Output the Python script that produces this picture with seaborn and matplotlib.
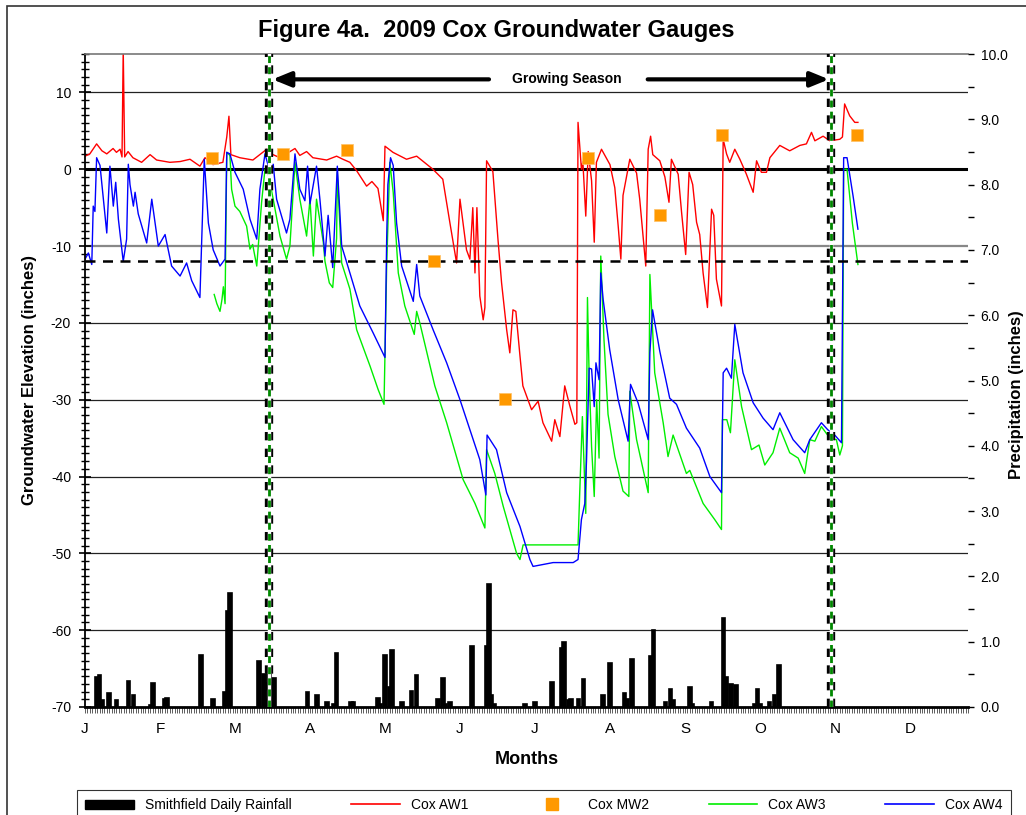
import numpy as np
import matplotlib
matplotlib.use('Agg')
import matplotlib.pyplot as plt
from matplotlib.patches import Patch, Rectangle
from matplotlib.lines import Line2D
import seaborn as sns

plt.rcParams['font.family'] = ['Liberation Sans', 'DejaVu Sans']
plt.rcParams['axes.unicode_minus'] = False

# ---- data (day of year, inches) ----
months = ['J', 'F', 'M', 'A', 'M', 'J', 'J', 'A', 'S', 'O', 'N', 'D']
month_days = [0, 31, 62, 93, 124, 155, 186, 217, 248, 279, 310, 341]

gs_start = 76
gs_end = 308.5

aw1_day = [0, 2, 4.8, 7, 9, 11.6, 13, 14.5, 15.3, 15.8,
           16.4, 17.8, 19.8, 23.4, 26.9, 29.6, 35.1, 39.3, 43.4, 47.5,
           49.6, 52.9, 57, 58.6, 59.5, 60.3, 64, 69.4, 75.1, 77.7,
           80.6, 86.8, 88.8, 91.6, 94.2, 99.9, 104, 106.6, 109.5, 112.3,
           116.4, 118.6, 121.1, 123.3, 124, 127.3, 132.9, 137.1, 143.8, 147.9,
           150.8, 153.6, 155, 157.7, 159.1, 160.3, 161.2, 162, 163.2, 164.6,
           165.3, 166, 168.6, 170.7, 172.2, 174.3, 175.6, 176.9, 178.1, 179.8,
           181, 184.6, 187.3, 189.3, 192.9, 194.2, 196.3, 198.3, 200.4, 202.5,
           203.3, 203.8, 205.2, 205.8, 207, 208, 209.4, 210.5, 211.4, 213.5,
           217, 219, 220.4, 221.5, 222.4, 225.2, 228, 229.3, 230.7, 231.8,
           232.8, 233.8, 234.7, 237.6, 239.7, 241.4, 242.4, 245.2, 246.6, 248.3,
           249.7, 251.2, 252.8, 254.1, 255.5, 257.3, 259, 259.9, 261, 263.1,
           263.8, 265.2, 266.5, 268.6, 270.7, 273.4, 276.2, 277.6, 279.6, 281.7,
           283.1, 287.2, 291.3, 295.5, 298.2, 300.3, 301.7, 305.1, 307.9, 312,
           313.1, 314, 316.1, 318.2, 319.5]
aw1_val = [1.7, 2.0, 3.3, 2.4, 2.0, 2.7, 2.2, 2.6, 1.6, 15.6,
           1.6, 2.3, 1.5, 0.9, 1.9, 1.2, 0.9, 1.0, 1.3, 0.4,
           1.5, 0.6, 0.9, 4.2, 6.9, 1.9, 1.5, 1.2, 2.6, 1.9,
           1.5, 2.7, 1.8, 2.3, 1.5, 1.2, 1.7, 1.3, 0.9, -0.2,
           -2.2, -1.6, -2.5, -6.7, 3.0, 2.2, 1.3, 1.7, 0.0, -1.3,
           -6.9, -12.2, -3.9, -10.5, -11.7, -5.0, -13.5, -5.0, -16.5, -19.6,
           -18.0, 1.1, -0.3, -9.1, -14.8, -20.9, -23.9, -18.3, -18.5, -24.3,
           -28.2, -31.3, -30.2, -33.0, -35.4, -32.6, -34.8, -28.2, -30.8, -33.2,
           -33.0, 6.1, 0.0, 1.0, -6.1, 2.3, -1.5, -9.5, 0.9, 2.6,
           0.6, -2.4, -7.4, -11.7, -3.4, 1.3, -0.5, -3.9, -8.7, -12.6,
           2.6, 4.3, 1.9, 1.1, -1.0, -4.3, 1.3, -0.65, -5.6, -11.1,
           -0.4, -2.0, -6.9, -8.5, -13.5, -18.0, -5.2, -6.0, -14.3, -17.8,
           3.9, 2.0, 0.9, 2.6, 1.3, -0.65, -3.0, 1.1, -0.4, -0.4,
           1.5, 3.1, 2.4, 3.1, 3.3, 4.8, 3.7, 4.3, 3.7, 3.9,
           4.2, 8.5, 6.95, 6.1, 6.1]

mw2_day = [52.6, 82, 108.2, 144.3, 173.6, 208, 237.6, 263.3, 319.3]
mw2_val = [1.5, 2.0, 2.5, -12.0, -29.9, 1.5, -5.95, 4.5, 4.5]

aw3_day = [53.4, 54.5, 55.8, 56.6, 57.2, 57.9, 58.6, 59.9, 60.6, 62,
           64, 66.8, 68.2, 69.3, 71, 73, 74.4, 75.7, 77.8, 80.6,
           83.3, 84.7, 86.8, 88.8, 91.6, 93, 94.4, 95.7, 98.5, 99.2,
           101, 102.4, 104, 104.3, 106.1, 109.5, 112.3, 117.8, 121.2, 123.6,
           124.7, 126, 127.4, 129.5, 132.2, 136.1, 137.1, 138.4, 144.6, 149.5,
           156.3, 161.2, 165.3, 166, 169.4, 172.9, 178.4, 179.8, 181.1, 203.8,
           204.5, 205.6, 207, 207.7, 208.4, 209.4, 210.5, 211.5, 212.5, 213.2,
           214.5, 216.2, 219, 222.4, 224.8, 225.2, 228, 232.8, 233.5, 235.5,
           239, 241, 243.1, 248.6, 250, 255.5, 260.3, 263.1, 263.5, 265.3,
           266.8, 268.6, 271.4, 275.5, 278.6, 281, 284.4, 287.2, 291.3, 294.8,
           297.5, 299.6, 301.7, 304.4, 307.9, 310.6, 312, 313.1, 313.6, 315,
           317.2, 319.5]
aw3_val = [-16.3, -17.5, -18.5, -17.0, -15.3, -17.5, 2.2, 1.8, -2.6, -4.8,
           -5.5, -7.4, -10.4, -9.8, -12.6, -4.3, 0.0, -0.5, -3.9, -8.7,
           -11.7, -10.0, 0.9, -3.9, -8.7, -3.9, -11.3, -3.9, -9.5, -12.0,
           -14.8, -15.4, -9.0, -0.4, -12.2, -15.6, -20.9, -25.6, -28.7, -30.6,
           -12.6, 0.9, -3.0, -13.5, -17.8, -21.5, -18.5, -20.0, -28.2, -33.0,
           -40.4, -43.5, -46.7, -36.5, -39.6, -43.9, -50.0, -50.8, -48.9, -48.9,
           -42.1, -32.2, -44.8, -16.7, -27.0, -36.1, -42.6, -30.0, -37.6, -11.3,
           -22.0, -31.9, -37.4, -41.9, -42.6, -28.9, -35.2, -42.1, -13.7, -26.5,
           -33.0, -37.4, -34.6, -39.6, -39.2, -43.5, -45.6, -46.9, -32.6, -32.6,
           -34.3, -24.8, -30.9, -36.5, -35.9, -38.5, -36.9, -33.7, -36.9, -37.6,
           -39.6, -35.2, -35.4, -33.5, -35.0, -35.2, -37.2, -36.0, 0.0, 0.0,
           -7.0, -12.4]

aw4_day = [0, 1.4, 2.8, 3.4, 4.1, 4.8, 6.2, 9, 10.3, 11.7,
           12.7, 13.8, 15.8, 17.2, 17.9, 18.6, 20, 20.7, 22, 25.5,
           27.6, 30.3, 33.1, 35.8, 39.3, 42, 44.1, 47.5, 49.3, 51,
           53, 55.8, 57.9, 58.6, 59.9, 62, 65.4, 68.2, 71, 72.3,
           74.4, 75.7, 77.1, 77.8, 79.2, 83.3, 84.7, 86.8, 88.8, 90.9,
           92, 93, 95.7, 97.1, 99.2, 100.5, 102.4, 104.3, 106.1, 109.5,
           113.6, 119.1, 124, 124.7, 125.2, 126.3, 127.4, 128.8, 130.9, 135.7,
           137.1, 138.4, 143.9, 149.5, 155, 159.1, 163.2, 165.7, 166.2, 170.1,
           174.3, 179.8, 183.9, 185.2, 193.5, 201.8, 203.8, 205.2, 206.6, 207.3,
           208.4, 209.4, 210.5, 211.2, 212.5, 213.2, 214.2, 216.9, 220.4, 224.5,
           225.5, 228.6, 232.8, 233.5, 234.6, 237.6, 241.7, 244.5, 248.6, 254.1,
           258.3, 263.1, 263.8, 265.2, 267.2, 268.6, 272, 276.2, 280.3, 284.4,
           287.2, 292.7, 297.5, 299.6, 304.4, 307, 309.9, 312.7, 313.6, 315,
           317.5, 319.5]
aw4_val = [-11.7, -10.9, -12.4, -4.8, -5.5, 1.5, 0.5, -8.3, 0.4, -4.8,
           -1.7, -6.5, -12.0, -9.1, 0.65, -2.0, -4.8, -3.0, -5.8, -9.6,
           -3.9, -10.0, -8.5, -12.6, -13.9, -12.2, -14.5, -16.7, 1.3, -7.0,
           -10.5, -12.6, -11.7, 2.2, 2.0, -0.4, -2.6, -6.5, -9.1, -2.6,
           2.0, 0.5, -0.4, 0.65, -3.9, -8.3, -6.5, 2.0, -2.6, -4.1,
           0.4, -4.5, 0.4, -3.9, -11.3, -6.0, -12.8, 0.4, -10.0, -13.5,
           -17.8, -21.3, -24.5, -9.1, -2.0, 1.5, 0.5, -7.0, -12.6, -17.2,
           -12.4, -16.5, -20.9, -25.2, -30.0, -33.9, -37.8, -42.4, -34.6, -36.5,
           -42.1, -46.5, -50.8, -51.7, -51.2, -51.2, -50.8, -45.6, -43.5, -38.0,
           -25.9, -26.0, -30.9, -25.2, -27.4, -13.5, -17.0, -23.5, -30.0, -35.4,
           -28.0, -30.4, -35.2, -23.9, -18.3, -23.7, -29.8, -30.6, -33.7, -36.3,
           -40.0, -42.1, -26.5, -25.9, -27.2, -20.2, -26.5, -30.4, -32.4, -33.9,
           -31.7, -35.2, -36.9, -35.2, -33.0, -33.9, -34.6, -35.6, 1.5, 1.5,
           -3.5, -7.8]

rain_day = [5, 6, 7, 10, 13, 18, 20, 27, 28, 33,
            34, 48, 53, 58, 59, 60, 72, 74, 76, 78,
            92, 96, 100, 103, 104, 110, 111, 121, 122, 124,
            126, 127, 131, 135, 137, 146, 148, 149, 151, 160,
            166, 167, 168, 169, 182, 186, 193, 197, 198, 200,
            201, 204, 206, 214, 217, 223, 224, 226, 234, 235,
            240, 242, 243, 250, 251, 259, 264, 265, 267, 269,
            277, 278, 279, 283, 285, 287]
rain_in = [0.46, 0.49, 0.11, 0.21, 0.11, 0.40, 0.19, 0.03, 0.36, 0.13,
           0.14, 0.79, 0.12, 0.23, 1.47, 1.74, 0.70, 0.50, 0.50, 0.45,
           0.23, 0.19, 0.08, 0.04, 0.82, 0.07, 0.07, 0.14, 0.05, 0.79,
           0.30, 0.88, 0.08, 0.25, 0.49, 0.12, 0.44, 0.05, 0.07, 0.93,
           0.93, 1.89, 0.19, 0.05, 0.05, 0.08, 0.39, 0.90, 1.0, 0.11,
           0.12, 0.12, 0.43, 0.18, 0.68, 0.22, 0.12, 0.73, 0.78, 1.18,
           0.08, 0.27, 0.11, 0.31, 0.05, 0.08, 1.37, 0.46, 0.35, 0.34,
           0.05, 0.28, 0.05, 0.08, 0.18, 0.64]

W, H = 1026, 815
fig = plt.figure(figsize=(W / 100, H / 100), dpi=100)
ax = fig.add_axes([85 / W, 1 - 707 / H, 883 / W, 653 / H])
ax2 = ax.twinx()

# grid lines from the left axis
for g in [10, -20, -30, -40, -50, -60]:
    ax.axhline(g, color='#222222', lw=0.9, zorder=1)
ax.axhline(-10, color='#888888', lw=1.6, zorder=1)
ax.axhline(0, color='black', lw=2.2, zorder=1)
ax.axhline(-12, color='black', lw=1.8, ls=(0, (4, 3)), zorder=3)

# groundwater series
sns.lineplot(x=aw1_day, y=aw1_val, ax=ax, color='#ff0000', lw=1, estimator=None, sort=False, legend=False, zorder=2)
sns.lineplot(x=aw3_day, y=aw3_val, ax=ax, color='#00ee00', lw=1, estimator=None, sort=False, legend=False, zorder=2)
sns.lineplot(x=aw4_day, y=aw4_val, ax=ax, color='#0000ff', lw=1, estimator=None, sort=False, legend=False, zorder=2)
sns.scatterplot(x=mw2_day, y=mw2_val, ax=ax, marker='s', s=75, color='#ff9900',
                edgecolor='#ffc266', linewidth=0.5, zorder=4, legend=False)

# rainfall on right axis
ax2.bar(rain_day, rain_in, width=1.5, color='black', edgecolor='black', linewidth=1.2, zorder=2)

# growing season markers
for d in [gs_start, gs_end]:
    ax2.axvline(d, color='black', lw=6, ls=(0, (1, 1)), zorder=5)
    ax2.axvline(d, color='white', lw=2.5, zorder=6)
    ax2.axvline(d, color='#008800', lw=2, ls=(0, (2.5, 1.5)), zorder=7)

arrow = dict(arrowstyle='-|>,head_length=1.1,head_width=0.45', lw=3, color='black',
             mutation_scale=10, shrinkA=0, shrinkB=0)
ax.annotate('', xy=(gs_start + 1.5, 11.7), xytext=(167, 11.7), arrowprops=arrow)
ax.annotate('', xy=(gs_end - 1, 11.7), xytext=(232.6, 11.7), arrowprops=arrow)
ax.text(199, 11.7, 'Growing Season', ha='center', va='center', fontsize=10, fontweight='bold')

# axes ranges and ticks
ax.set_xlim(0, 365)
ax.set_ylim(-70, 15)
ax2.set_ylim(0, 10)
ax.set_xticks(month_days)
ax.set_xticklabels(months, fontsize=11)
ax.set_xticks(np.arange(0, 366, 1), minor=True)
ax.tick_params(axis='x', which='both', direction='out', length=4, width=0.6, color='#444444', pad=7)
ax.set_yticks(np.arange(-70, 11, 10))
ax.set_yticks(np.arange(-70, 16, 1), minor=True)
ax.tick_params(axis='y', which='major', direction='inout', length=8, width=1.2, labelsize=10, pad=6)
ax.tick_params(axis='y', which='minor', direction='inout', length=6, width=1.0)
ax2.set_yticks(np.arange(0, 11, 1))
ax2.set_yticklabels([f'{v:.1f}' for v in range(11)])
ax2.set_yticks(np.arange(0, 10.01, 0.5), minor=True)
ax2.tick_params(axis='y', which='both', direction='out', length=4, width=1.0, labelsize=10, pad=5)

ax.set_xlabel('')
ax.set_ylabel('')
ax2.set_ylabel('')
ax.spines['right'].set_visible(False)
for s in ['right', 'left', 'top', 'bottom']:
    ax2.spines[s].set_visible(False)
ax.spines['top'].set_color('#777777')
ax.spines['top'].set_linewidth(1.2)
ax.spines['left'].set_linewidth(1.3)
ax.spines['bottom'].set_linewidth(2)

# text
fig.text(496 / W, 1 - 30 / H, 'Figure 4a.  2009 Cox Groundwater Gauges', ha='center', va='center',
         fontsize=17, fontweight='bold')
fig.text(30 / W, 1 - 380 / H, 'Groundwater Elevation (inches)', rotation=90, ha='center', va='center',
         fontsize=12, fontweight='bold')
fig.text(1017 / W, 1 - 395 / H, 'Precipitation (inches)', rotation=90, ha='center', va='center',
         fontsize=12, fontweight='bold')
fig.text(527 / W, 1 - 760 / H, 'Months', ha='center', va='center', fontsize=13, fontweight='bold')

# figure border
fig.add_artist(Rectangle((7 / W, -0.1), 1.2, (H - 6) / H + 0.1, fill=False, edgecolor='#333333',
                         lw=1.2, transform=fig.transFigure))

handles = [Patch(facecolor='black', edgecolor='black'),
           Line2D([], [], color='#ff0000', lw=1.2),
           Line2D([], [], marker='s', ls='none', color='#ff9900', ms=8),
           Line2D([], [], color='#00ee00', lw=1.2),
           Line2D([], [], color='#0000ff', lw=1.2)]
labels = ['Smithfield Daily Rainfall', 'Cox AW1', 'Cox MW2', 'Cox AW3', 'Cox AW4']
leg = fig.legend(handles, labels, ncol=5, loc='upper center',
                 bbox_to_anchor=(70 / W, -0.2, 948 / W, 0.2 + (H - 783) / H), mode='expand',
                 frameon=True, fancybox=False, edgecolor='black', fontsize=10,
                 handlelength=3.5, borderpad=0.6)
leg.get_frame().set_linewidth(0.8)

fig.savefig('out.png', dpi=100)
